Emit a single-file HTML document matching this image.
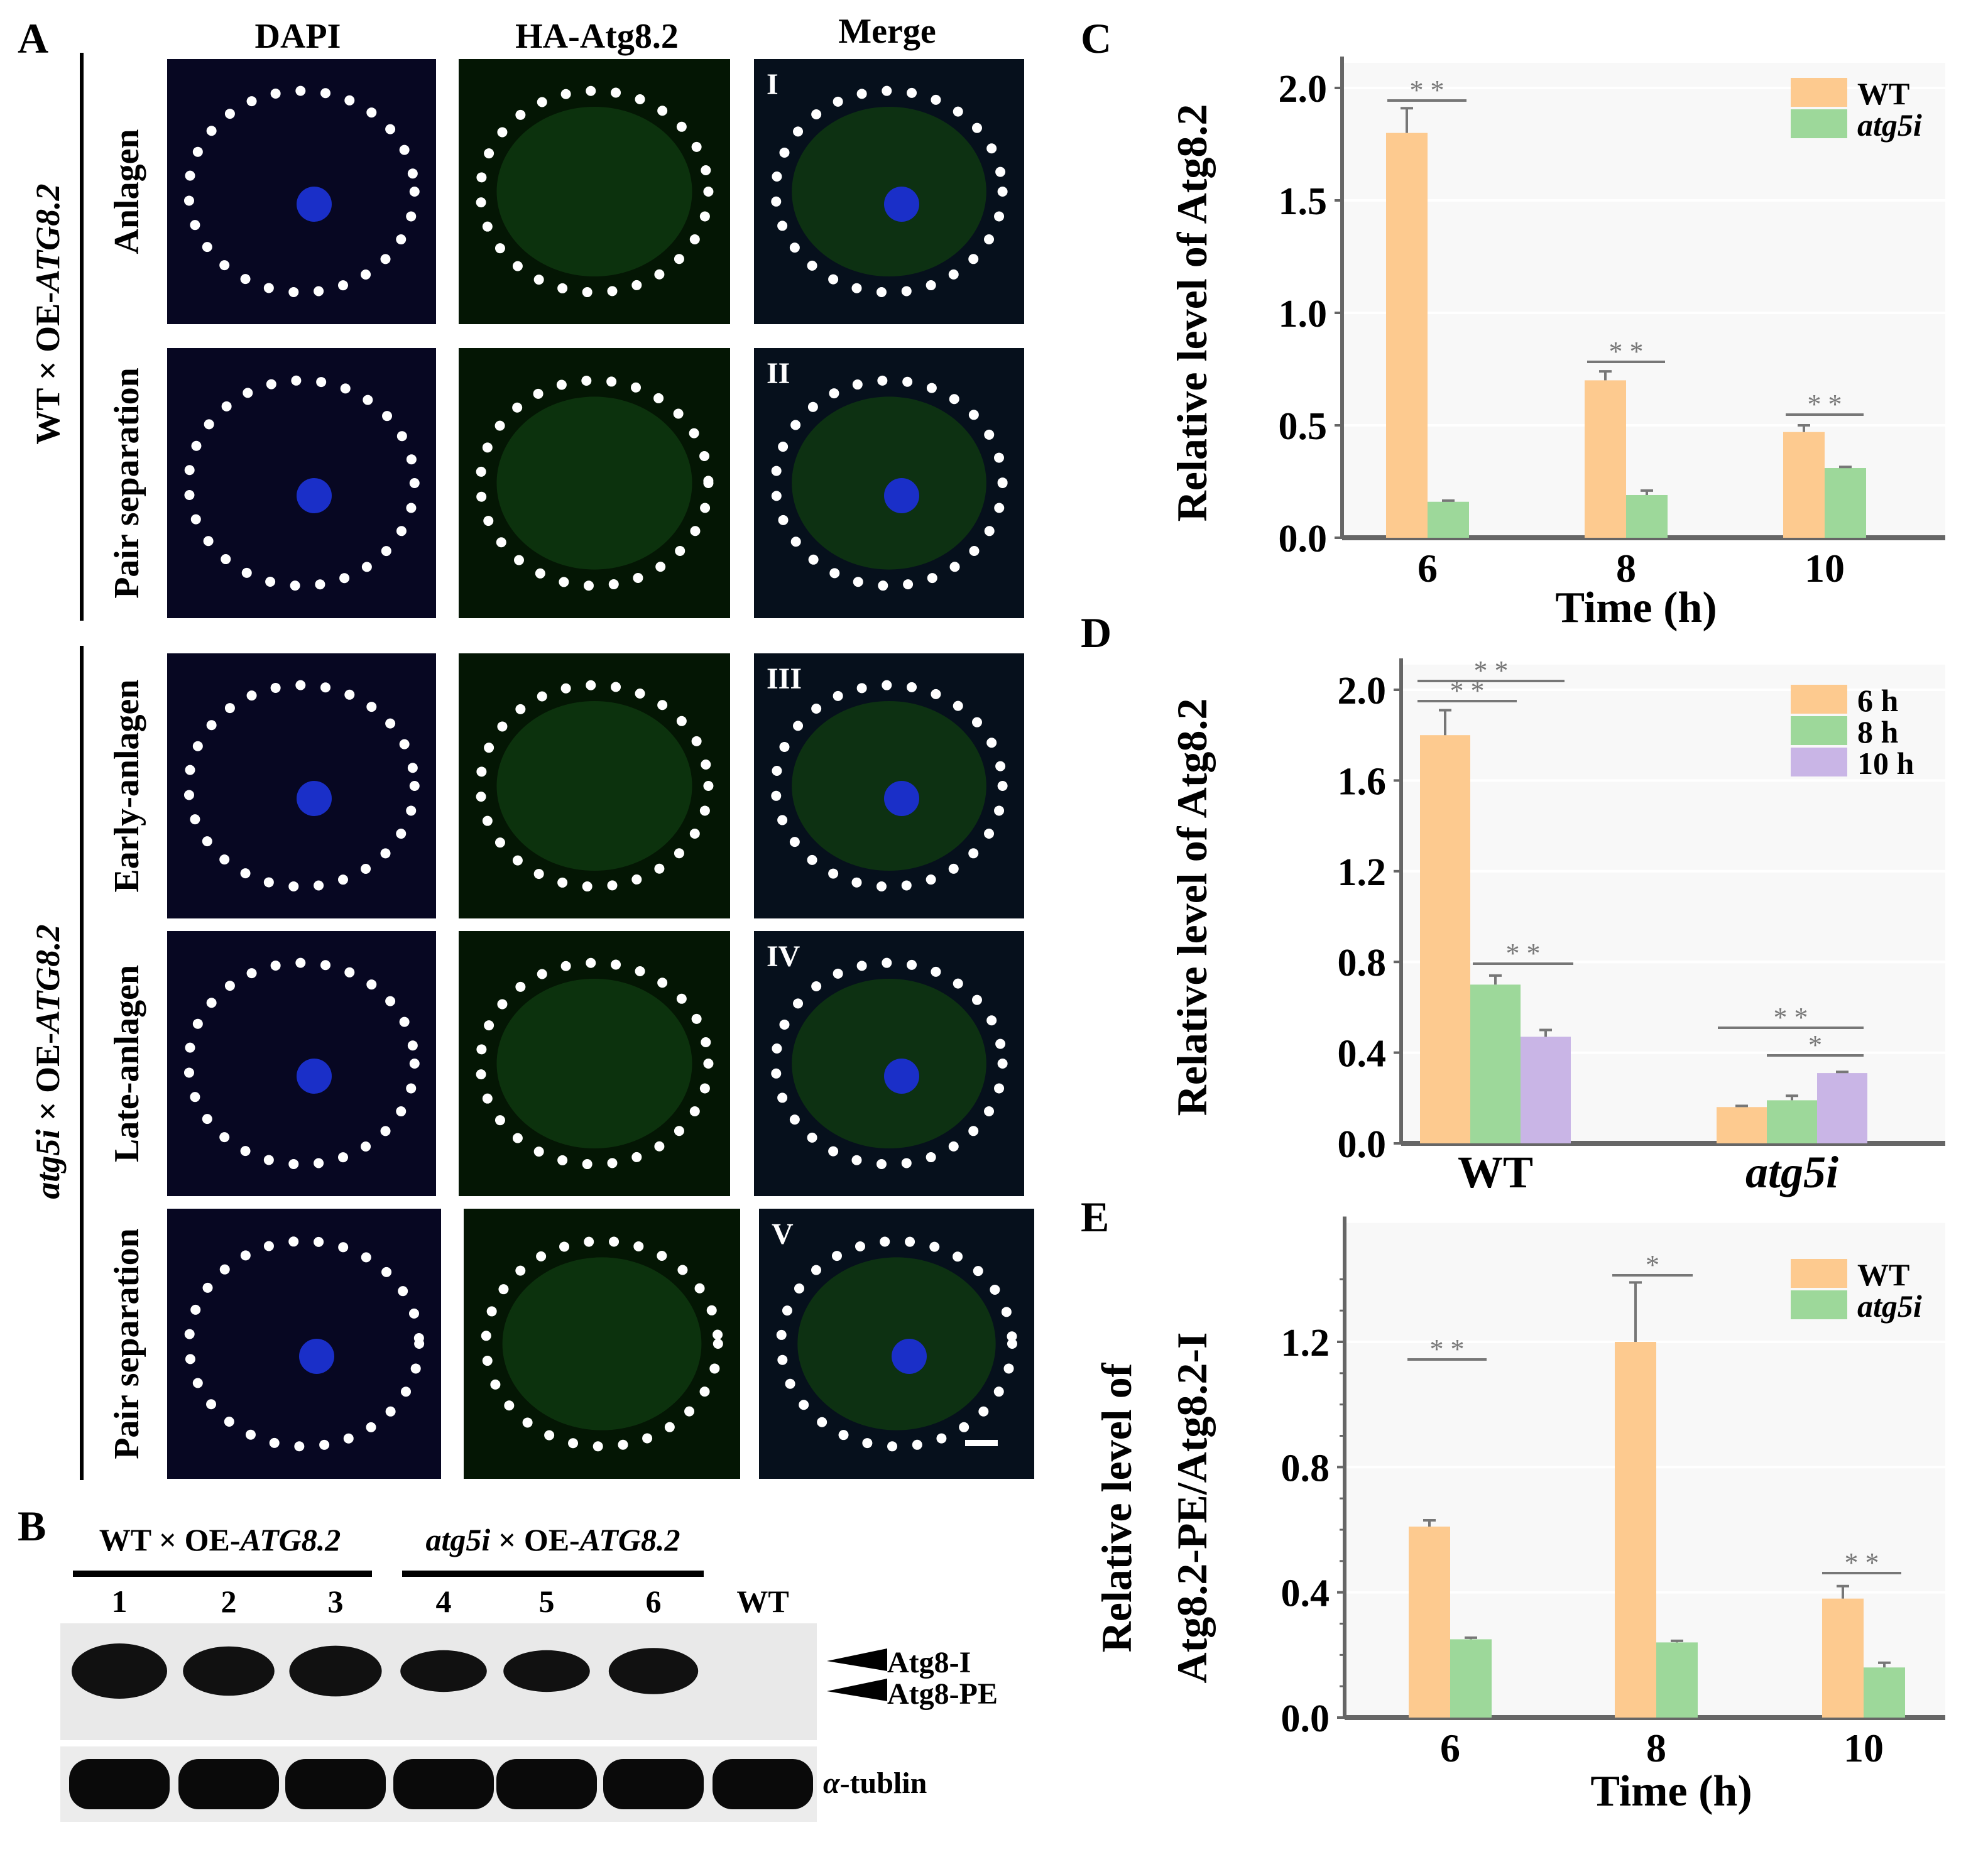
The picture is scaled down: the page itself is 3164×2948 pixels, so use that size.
<!DOCTYPE html>
<html><head><meta charset="utf-8">
<style>
html,body{margin:0;padding:0;background:#fff;}
svg{display:block;font-family:"Liberation Serif",serif;font-weight:bold;}
</style></head>
<body>
<svg id="fig" width="3164" height="2948" viewBox="0 0 1582 1474" xmlns="http://www.w3.org/2000/svg">
<g id="panelA">
<text x="14" y="42" font-size="34">A</text>
<text x="237" y="38" font-size="28" text-anchor="middle">DAPI</text>
<text x="475" y="38" font-size="28" text-anchor="middle">HA-Atg8.2</text>
<text x="706" y="34" font-size="28" text-anchor="middle">Merge</text>
<line x1="65" y1="42" x2="65" y2="494" stroke="#000" stroke-width="3"/>
<line x1="65" y1="514" x2="65" y2="1178" stroke="#000" stroke-width="3"/>
<text transform="translate(47,250) rotate(-90)" font-size="27" text-anchor="middle">WT × OE-<tspan font-style="italic">ATG8.2</tspan></text>
<text transform="translate(47,845) rotate(-90)" font-size="27" text-anchor="middle"><tspan font-style="italic">atg5i</tspan> × OE-<tspan font-style="italic">ATG8.2</tspan></text>
</g>
<g id="panelB">
<text x="14" y="1226" font-size="34">B</text>
<text x="175" y="1234" font-size="25" text-anchor="middle">WT × OE-<tspan font-style="italic">ATG8.2</tspan></text>
<text x="440" y="1234" font-size="25" text-anchor="middle"><tspan font-style="italic">atg5i</tspan> × OE-<tspan font-style="italic">ATG8.2</tspan></text>
<rect x="58" y="1250" width="238" height="5" fill="#000"/>
<rect x="320" y="1250" width="240" height="5" fill="#000"/>
<rect x="48" y="1292" width="602" height="93" fill="#e9e9e9"/>
<rect x="48" y="1390" width="602" height="60" fill="#ececec"/>
<polygon points="658,1322 706,1312 706,1330" fill="#000"/>
<polygon points="658,1346 706,1336 706,1354" fill="#000"/>
<text x="706" y="1331" font-size="24">Atg8-I</text>
<text x="706" y="1356" font-size="24">Atg8-PE</text>
<text x="655" y="1427" font-size="24"><tspan font-style="italic">α</tspan>-tublin</text>
</g>
<g id="charts"></g>
</svg>
<script>
const NS="http://www.w3.org/2000/svg";
const svg=document.getElementById('fig');
function mk(tag,attrs,parent,txt){const e=document.createElementNS(NS,tag);for(const k in attrs)e.setAttribute(k,attrs[k]);if(txt!==undefined)e.textContent=txt;(parent||svg).appendChild(e);return e;}

// ---------- Panel A microscopy tiles ----------
const cols=[[133,347],[365,581],[600,815]];
const rowsY=[[47,258],[277,492],[520,731],[741,952],[962,1177]];
const rowLabels=["Anlagen","Pair separation","Early-anlagen","Late-anlagen","Pair separation"];
const roman=["I","II","III","IV","V"];
const tileColors=["#070722","#041604","#06101c"];
const A=document.getElementById('panelA');
rowsY.forEach((r,ri)=>{
  const lab=mk('text',{transform:`translate(110,${(r[0]+r[1])/2}) rotate(-90)`,'font-size':28,'text-anchor':'middle'},A,rowLabels[ri]);
  
  
  cols.forEach((c,ci)=>{
    const x0=c[0]+(ri==4?(ci==0?0:4):0), w=c[1]-c[0]+(ri==4?4:0);
    const t=mk('rect',{x:x0,y:r[0],width:w,height:r[1]-r[0],fill:tileColors[ci]},A);
    
    
    const cx=x0+w/2, cy=(r[0]+r[1])/2;
    if(ci>0){
      const cell=mk('ellipse',{cx:cx,cy:cy,rx:w*0.36,ry:(r[1]-r[0])*0.32,fill:'#0f3a10',opacity:0.8},A);
      
      
    }
    if(ci!=1){
      const n=mk('circle',{cx:cx+10,cy:cy+10,r:14,fill:'#1a2fc8'},A);
      
      
    }
    const o=mk('ellipse',{cx:cx,cy:cy,rx:w*0.42,ry:(r[1]-r[0])*0.38,fill:'none',stroke:'#fff','stroke-width':8,'stroke-linecap':'round','stroke-dasharray':'0 20'},A);
    
    
    if(ci==2){
      const rn=mk('text',{x:x0+10,y:r[0]+28,'font-size':24,fill:'#fff'},A,roman[ri]);
      
      
    }
  });
});
const sb=mk('rect',{x:768,y:1146,width:26,height:5,fill:'#fff'},A);



// ---------- Panel B blot ----------
const B=document.getElementById('panelB');
const laneLabels=["1","2","3","4","5","6","WT"];
const laneX=[95,182,267,353,435,520,607];
const bandI=[1,0.8,0.85,0.55,0.55,0.7,0];
laneLabels.forEach((l,i)=>{
  const t=mk('text',{x:laneX[i],y:1283,'font-size':25,'text-anchor':'middle'},B,l);
  
  
  if(bandI[i]>0){
    const b=mk('ellipse',{cx:laneX[i],cy:1330,rx:30+8*bandI[i],ry:10+12*bandI[i],fill:'#111'},B);
    
    
  }
  const tb=mk('rect',{x:laneX[i]-40,y:1400,width:80,height:40,rx:16,fill:'#0a0a0a'},B);
  
  
});

// ---------- Charts data ----------
const cCategories=["6","8","10"];
const cWT=[1.8,0.70,0.47];
const cWTerr=[0.11,0.04,0.03];
const cAtg=[0.16,0.19,0.31];
const cAtgErr=[0.005,0.02,0.005];
const cTicks=[0,0.5,1.0,1.5,2.0];
const cTickLabels=["0.0","0.5","1.0","1.5","2.0"];

const dCategories=["WT","atg5i"];
const d6h=[1.8,0.16];
const d8h=[0.70,0.19];
const d10h=[0.47,0.31];
const d6hErr=[0.11,0.005];
const d8hErr=[0.04,0.02];
const d10hErr=[0.03,0.005];
const dTicks=[0,0.4,0.8,1.2,1.6,2.0];
const dTickLabels=["0.0","0.4","0.8","1.2","1.6","2.0"];

const eCategories=["6","8","10"];
const eWT=[0.61,1.20,0.38];
const eWTerr=[0.02,0.19,0.04];
const eAtg=[0.25,0.24,0.16];
const eAtgErr=[0.005,0.005,0.015];
const eTicks=[0,0.4,0.8,1.2];
const eTickLabels=["0.0","0.4","0.8","1.2"];

const ORANGE="#fdca8f", GREEN="#9dd89a", PURPLE="#c9b5e6";
const G=document.getElementById('charts');

function chart(cfg){
  const g=mk('g',{},G);
  
  
  const y=v=>cfg.base-(v-0)/(cfg.ymax)*(cfg.base-cfg.top);
  const bg=mk('rect',{x:cfg.x0,y:cfg.top-20,width:cfg.x1-cfg.x0,height:cfg.base-cfg.top+20,fill:'#f8f8f8'},g);
  
  
  cfg.ticks.forEach((t,i)=>{
    const gl=mk('line',{x1:cfg.x0,x2:cfg.x1,y1:y(t),y2:y(t),stroke:'#fff','stroke-width':2},g);
    
    
    const tk=mk('line',{x1:cfg.x0-6,x2:cfg.x0,y1:y(t),y2:y(t),stroke:'#666','stroke-width':2},g);
    
    
    const tl=mk('text',{x:cfg.x0-12,y:y(t)+11,'font-size':31,'text-anchor':'end'},g,cfg.tickLabels[i]);
    
    
  });
  if(cfg.minor){cfg.minor.forEach(t=>{
    const mt=mk('line',{x1:cfg.x0-4,x2:cfg.x0,y1:y(t),y2:y(t),stroke:'#666','stroke-width':1.5},g);
    
    
  });}
  const ya=mk('line',{x1:cfg.x0,x2:cfg.x0,y1:cfg.top-25,y2:cfg.base,stroke:'#666','stroke-width':3},g);
  
  
  const xa=mk('line',{x1:cfg.x0,x2:cfg.x1,y1:cfg.base,y2:cfg.base,stroke:'#666','stroke-width':4},g);
  
  
  cfg.categories.forEach((c,ci)=>{
    const cx=cfg.centers[ci];
    const n=cfg.series.length;
    cfg.series.forEach((s,si)=>{
      const bx=cx-n*cfg.bw/2+si*cfg.bw;
      const v=s.values[ci], e=s.err[ci];
      const r=mk('rect',{x:bx,y:y(v),width:cfg.bw,height:cfg.base-y(v),fill:s.color},g);
      
      
      const ex=bx+cfg.bw/2;
      const el=mk('path',{d:`M${ex},${y(v)}V${y(v+e)}M${ex-5},${y(v+e)}H${ex+5}`,stroke:'#777','stroke-width':2,fill:'none'},g);
      
      
    });
    const xl=mk('text',{x:cx,y:cfg.base+35,'font-size':cfg.xfs||32,'text-anchor':'middle','font-style':cfg.italicCats&&cfg.italicCats[ci]?'italic':'normal'},g,c);
    
    
  });
  cfg.sig.forEach(s=>{
    const sl=mk('line',{x1:s[0],x2:s[1],y1:s[2],y2:s[2],stroke:'#777','stroke-width':2},g);
    
    
    const st=mk('text',{x:(s[0]+s[1])/2,y:s[2]-1,'font-size':22,'font-weight':'normal','text-anchor':'middle',fill:'#777'},g,s[3]);
    
    
  });
  cfg.series.forEach((s,si)=>{
    const ly=cfg.legY+si*25;
    const lr=mk('rect',{x:1425,y:ly,width:45,height:23,fill:s.color},g);
    
    
    const lt=mk('text',{x:1478,y:ly+21,'font-size':25,'font-style':s.italic?'italic':'normal'},g,s.label);
    
    
  });
}

chart({name:'chart-c',x0:1068,x1:1548,top:70,base:428,ymax:2.0,bw:33,ticks:cTicks,tickLabels:cTickLabels,
  categories:cCategories,centers:[1136,1294,1452],legY:62,
  series:[{key:'wt',label:'WT',color:ORANGE,values:cWT,err:cWTerr},{key:'atg5i',label:'atg5i',italic:true,color:GREEN,values:cAtg,err:cAtgErr}],
  sig:[[1104,1167,80,'* *'],[1263,1325,288,'* *'],[1421,1483,330,'* *']]});
chart({name:'chart-d',x0:1115,x1:1548,top:549,base:910,ymax:2.0,bw:40,ticks:dTicks,tickLabels:dTickLabels,
  categories:dCategories,centers:[1190,1426],legY:545,italicCats:[false,true],xfs:36,
  series:[{key:'6h',label:'6 h',color:ORANGE,values:d6h,err:d6hErr},{key:'8h',label:'8 h',color:GREEN,values:d8h,err:d8hErr},{key:'10h',label:'10 h',color:PURPLE,values:d10h,err:d10hErr}],
  sig:[[1128,1245,542,'* *'],[1128,1207,558,'* *'],[1172,1252,767,'* *'],[1367,1483,818,'* *'],[1406,1483,840,'*']]});
chart({name:'chart-e',x0:1070,x1:1548,top:1068-(1367-1068)/1.2*0.3,base:1367,ymax:1.5,bw:33,ticks:eTicks,tickLabels:eTickLabels,
  minor:[0.1,0.2,0.3,0.5,0.6,0.7,0.9,1.0,1.1,1.3,1.4],
  categories:eCategories,centers:[1154,1318,1483],legY:1002,
  series:[{key:'wt',label:'WT',color:ORANGE,values:eWT,err:eWTerr},{key:'atg5i',label:'atg5i',italic:true,color:GREEN,values:eAtg,err:eAtgErr}],
  sig:[[1120,1183,1082,'* *'],[1283,1347,1015,'*'],[1450,1513,1252,'* *']]});

// titles
function txt(attrs,s,name){const t=mk('text',attrs,G,s);return t;}
txt({x:860,y:42,'font-size':34},'C','label-c');
txt({x:860,y:515,'font-size':34},'D','label-d');
txt({x:860,y:980,'font-size':34},'E','label-e');
txt({transform:'translate(960,249) rotate(-90)','font-size':34,'text-anchor':'middle'},'Relative level of Atg8.2','y-axis-title-c');
txt({transform:'translate(960,722) rotate(-90)','font-size':34,'text-anchor':'middle'},'Relative level of Atg8.2','y-axis-title-d');
txt({transform:'translate(900,1200) rotate(-90)','font-size':34,'text-anchor':'middle'},'Relative level of','y-axis-title-e-line1');
txt({transform:'translate(960,1200) rotate(-90)','font-size':34,'text-anchor':'middle'},'Atg8.2-PE/Atg8.2-I','y-axis-title-e-line2');
txt({x:1302,y:495,'font-size':35,'text-anchor':'middle'},'Time (h)','x-axis-title-c');
txt({x:1330,y:1437,'font-size':35,'text-anchor':'middle'},'Time (h)','x-axis-title-e');
</script>
</body></html>
